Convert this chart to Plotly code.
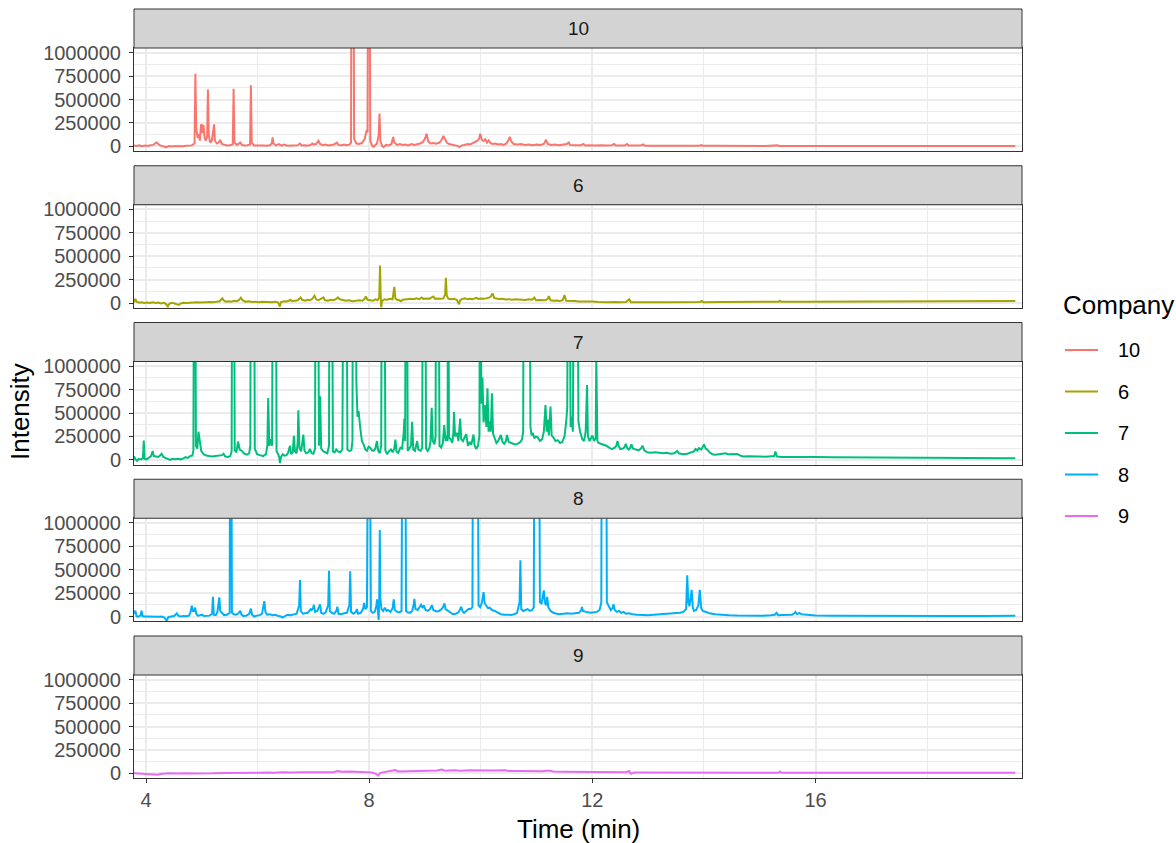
import plotly.graph_objects as go

# ---------------- data (time in min, intensity) ----------------
companies = ["10", "6", "7", "8", "9"]
colors = ["#F8766D", "#A3A500", "#00BF7D", "#00B0F6", "#E76BF3"]

trace_10 = [
    (3.785, 8000), (3.83, 3000), (3.88, 10000), (3.93, 2000), (3.98, 9000), (4.03, 4000), (4.08, 11000),
    (4.13, 15000), (4.17, 35000), (4.19, 42000), (4.22, 25000), (4.26, 8000), (4.31, 2000), (4.35, -12000),
    (4.38, -5000), (4.42, 2000), (4.47, -2000), (4.52, 4000), (4.57, 0), (4.62, 5000), (4.67, 2000),
    (4.72, 6000), (4.77, 4000), (4.82, 10000), (4.87, 30000), (4.885, 775000), (4.9, 200000),
    (4.925, 90000), (4.95, 130000), (4.965, 60000), (4.985, 225000), (5.0, 235000), (5.015, 140000),
    (5.03, 230000), (5.05, 90000), (5.07, 60000), (5.095, 100000), (5.11, 606000), (5.125, 120000),
    (5.15, 40000), (5.18, 60000), (5.205, 150000), (5.22, 234000), (5.235, 60000), (5.27, 30000),
    (5.31, 45000), (5.33, 70000), (5.36, 25000), (5.4, 15000), (5.45, 10000), (5.5, 12000),
    (5.555, 20000), (5.57, 614000), (5.585, 40000), (5.63, 15000), (5.67, 30000), (5.69, 40000),
    (5.72, 15000), (5.77, 8000), (5.82, 12000), (5.865, 20000), (5.88, 652000), (5.895, 40000),
    (5.94, 8000), (5.99, 10000), (6.05, 5000), (6.1, 9000), (6.16, 6000), (6.22, 12000), (6.255, 30000),
    (6.27, 95000), (6.285, 30000), (6.33, 10000), (6.36, 20000), (6.39, 22000), (6.43, 8000),
    (6.48, 18000), (6.53, 5000), (6.59, 8000), (6.65, 4000), (6.72, 12000), (6.76, 30000), (6.79, 10000),
    (6.85, 12000), (6.9, 6000), (6.95, 15000), (6.98, 30000), (7.01, 20000), (7.05, 25000), (7.09, 60000),
    (7.12, 25000), (7.17, 12000), (7.22, 18000), (7.27, 8000), (7.32, 10000), (7.37, 20000),
    (7.42, 40000), (7.45, 15000), (7.5, 12000), (7.55, 20000), (7.6, 12000), (7.65, 20000),
    (7.675, 40000), (7.685, 3000000), (7.715, 3000000), (7.73, 80000), (7.77, 30000), (7.82, 25000),
    (7.87, 35000), (7.92, 80000), (7.95, 160000), (7.97, 150000), (7.985, 3000000), (8.0, 3000000),
    (8.02, 60000), (8.05, 10000), (8.08, -5000), (8.11, 10000), (8.14, 30000), (8.17, 120000),
    (8.185, 351000), (8.2, 60000), (8.23, 5000), (8.26, -10000), (8.3, 15000), (8.35, 10000),
    (8.4, 25000), (8.43, 100000), (8.45, 40000), (8.5, 15000), (8.55, 25000), (8.6, 15000), (8.65, 20000),
    (8.7, 10000), (8.76, 25000), (8.81, 15000), (8.86, 20000), (8.91, 30000), (8.96, 45000), (9.0, 80000),
    (9.03, 135000), (9.06, 50000), (9.1, 30000), (9.15, 35000), (9.2, 28000), (9.26, 40000),
    (9.3, 70000), (9.33, 110000), (9.36, 75000), (9.39, 40000), (9.43, 25000), (9.48, 20000),
    (9.53, 15000), (9.58, 5000), (9.62, -8000), (9.66, 10000), (9.71, 15000), (9.76, 25000),
    (9.81, 20000), (9.86, 35000), (9.9, 45000), (9.94, 60000), (9.97, 80000), (9.99, 135000),
    (10.02, 70000), (10.05, 55000), (10.08, 75000), (10.11, 40000), (10.14, 65000), (10.17, 35000),
    (10.21, 25000), (10.26, 30000), (10.31, 20000), (10.36, 25000), (10.41, 15000), (10.46, 30000),
    (10.5, 70000), (10.52, 100000), (10.55, 50000), (10.59, 25000), (10.65, 20000), (10.72, 25000),
    (10.79, 15000), (10.86, 20000), (10.93, 12000), (11.0, 18000), (11.07, 15000), (11.13, 25000),
    (11.17, 70000), (11.2, 25000), (11.26, 15000), (11.33, 20000), (11.4, 12000), (11.47, 18000),
    (11.54, 25000), (11.575, 40000), (11.6, 15000), (11.67, 12000), (11.74, 15000), (11.8, 12000),
    (11.84, 25000), (11.87, 10000), (11.95, 12000), (12.05, 8000), (12.15, 12000), (12.25, 8000),
    (12.35, 12000), (12.39, 25000), (12.42, 8000), (12.5, 10000), (12.58, 8000), (12.62, 25000),
    (12.65, 8000), (12.75, 10000), (12.86, 8000), (12.91, 20000), (12.94, 6000), (13.1, 7000),
    (13.3, 5000), (13.5, 7000), (13.7, 5000), (13.93, 6000), (13.95, 15000), (13.98, 5000),
    (14.2, 6000), (14.4, 4000), (14.59, 8000), (14.62, 4000), (14.9, 5000), (15.1, 4000),
    (15.32, 10000), (15.35, 4000), (15.8, 4000), (16.5, 3000), (17.2, 4000), (18.0, 3000),
    (18.8, 4000), (19.58, 4000),
]

trace_6 = [
    (3.785, 10000), (3.81, 45000), (3.83, 15000), (3.87, 5000), (3.92, 8000), (3.97, 0), (4.02, 6000),
    (4.07, 2000), (4.12, 8000), (4.17, 0), (4.22, 5000), (4.27, -5000), (4.32, 3000), (4.36, -10000),
    (4.39, -38000), (4.42, -5000), (4.47, 2000), (4.52, -5000), (4.56, -10000), (4.59, -20000),
    (4.62, -5000), (4.67, 3000), (4.73, 0), (4.79, 5000), (4.85, 2000), (4.91, 8000), (4.97, 5000),
    (5.03, 10000), (5.09, 8000), (5.15, 12000), (5.21, 10000), (5.27, 15000), (5.32, 20000),
    (5.35, 40000), (5.37, 50000), (5.39, 30000), (5.43, 15000), (5.48, 20000), (5.53, 15000),
    (5.58, 25000), (5.63, 20000), (5.67, 35000), (5.7, 58000), (5.73, 30000), (5.78, 15000),
    (5.84, 18000), (5.9, 12000), (5.96, 15000), (6.02, 10000), (6.08, 14000), (6.14, 10000),
    (6.2, 12000), (6.26, 8000), (6.32, 15000), (6.37, 5000), (6.4, -38000), (6.42, 10000),
    (6.47, 20000), (6.52, 18000), (6.56, 25000), (6.59, 35000), (6.62, 20000), (6.67, 25000),
    (6.72, 30000), (6.77, 60000), (6.8, 35000), (6.85, 25000), (6.9, 35000), (6.94, 30000),
    (6.98, 45000), (7.02, 78000), (7.05, 40000), (7.09, 30000), (7.13, 45000), (7.18, 60000),
    (7.21, 30000), (7.26, 25000), (7.31, 35000), (7.36, 30000), (7.41, 45000), (7.44, 60000),
    (7.47, 40000), (7.52, 30000), (7.58, 25000), (7.64, 30000), (7.7, 20000), (7.76, 25000),
    (7.82, 30000), (7.88, 25000), (7.92, 45000), (7.94, 70000), (7.97, 35000), (8.02, 30000),
    (8.07, 25000), (8.11, 40000), (8.15, 30000), (8.18, 60000), (8.195, 400000), (8.205, 100000),
    (8.215, -48000), (8.23, 20000), (8.27, 40000), (8.32, 35000), (8.37, 45000), (8.42, 40000),
    (8.45, 174000), (8.47, 50000), (8.5, 35000), (8.54, 30000), (8.57, 20000), (8.6, 35000),
    (8.65, 40000), (8.7, 38000), (8.75, 45000), (8.8, 40000), (8.85, 50000), (8.9, 42000),
    (8.94, 60000), (8.97, 45000), (9.02, 50000), (9.07, 45000), (9.11, 55000), (9.15, 70000),
    (9.18, 45000), (9.23, 50000), (9.28, 45000), (9.33, 50000), (9.36, 90000), (9.375, 270000),
    (9.39, 80000), (9.42, 45000), (9.47, 40000), (9.52, 45000), (9.57, 35000), (9.61, -12000),
    (9.63, 30000), (9.67, 45000), (9.72, 50000), (9.76, 40000), (9.8, 45000), (9.85, 40000),
    (9.89, 50000), (9.92, 55000), (9.96, 45000), (10.01, 50000), (10.06, 45000), (10.11, 55000),
    (10.16, 60000), (10.19, 80000), (10.21, 103000), (10.24, 55000), (10.29, 45000), (10.34, 40000),
    (10.39, 45000), (10.44, 38000), (10.5, 42000), (10.56, 35000), (10.62, 40000), (10.68, 35000),
    (10.74, 38000), (10.8, 33000), (10.86, 40000), (10.92, 35000), (10.96, 58000), (10.99, 30000),
    (11.05, 32000), (11.1, 28000), (11.16, 30000), (11.2, 45000), (11.22, 75000), (11.25, 30000),
    (11.3, 25000), (11.36, 28000), (11.42, 22000), (11.47, 30000), (11.5, 85000), (11.53, 25000),
    (11.6, 20000), (11.68, 22000), (11.76, 18000), (11.84, 20000), (11.92, 15000), (12.0, 18000),
    (12.1, 12000), (12.2, 15000), (12.3, 10000), (12.4, 12000), (12.5, 8000), (12.6, 12000),
    (12.66, 40000), (12.69, 10000), (12.8, 8000), (12.95, 10000), (13.1, 8000), (13.3, 10000),
    (13.5, 9000), (13.7, 11000), (13.93, 12000), (13.96, 22000), (13.99, 10000), (14.3, 12000),
    (14.6, 11000), (14.9, 13000), (15.2, 12000), (15.34, 15000), (15.36, 24000), (15.39, 13000),
    (15.8, 14000), (16.3, 15000), (16.8, 15000), (17.3, 17000), (17.8, 17000), (18.3, 19000),
    (18.8, 20000), (19.2, 21000), (19.58, 22000),
]

trace_7 = [
    (3.785, 40000), (3.81, 5000), (3.84, -10000), (3.87, 10000), (3.9, 5000), (3.945, 15000),
    (3.96, 207000), (3.975, 10000), (4.01, 5000), (4.05, 25000), (4.09, 40000), (4.12, 94000),
    (4.14, 40000), (4.18, 35000), (4.22, 30000), (4.25, 45000), (4.28, 65000), (4.31, 30000),
    (4.35, 20000), (4.39, 10000), (4.43, 0), (4.47, 10000), (4.52, 5000), (4.57, 10000), (4.62, 5000),
    (4.67, 15000), (4.71, 28000), (4.75, 20000), (4.79, 40000), (4.83, 45000), (4.85, 100000),
    (4.862, 3000000), (4.878, 3000000), (4.895, 150000), (4.92, 120000), (4.94, 300000),
    (4.96, 200000), (4.99, 95000), (5.03, 60000), (5.08, 45000), (5.13, 40000), (5.19, 35000),
    (5.25, 40000), (5.31, 45000), (5.36, 50000), (5.39, 65000), (5.42, 35000), (5.47, 30000),
    (5.51, 40000), (5.535, 90000), (5.545, 3000000), (5.575, 3000000), (5.59, 100000), (5.62, 80000),
    (5.65, 195000), (5.68, 110000), (5.72, 95000), (5.76, 65000), (5.81, 55000), (5.85, 70000),
    (5.87, 150000), (5.88, 3000000), (5.935, 3000000), (5.95, 120000), (5.99, 60000), (6.04, 50000),
    (6.1, 40000), (6.15, 60000), (6.175, 150000), (6.19, 660000), (6.21, 150000), (6.235, 220000),
    (6.26, 150000), (6.275, 3000000), (6.325, 3000000), (6.34, 90000), (6.37, 60000), (6.39, 20000),
    (6.4, -35000), (6.42, 30000), (6.45, 60000), (6.48, 45000), (6.52, 50000), (6.55, 80000),
    (6.58, 150000), (6.6, 60000), (6.63, 80000), (6.65, 255000), (6.67, 90000), (6.7, 70000),
    (6.72, 200000), (6.73, 530000), (6.75, 130000), (6.78, 90000), (6.8, 180000), (6.82, 270000),
    (6.84, 100000), (6.87, 70000), (6.91, 80000), (6.94, 115000), (6.97, 70000), (7.0, 65000),
    (7.03, 120000), (7.04, 3000000), (7.08, 3000000), (7.1, 150000), (7.12, 680000), (7.14, 120000),
    (7.18, 90000), (7.22, 80000), (7.25, 70000), (7.28, 150000), (7.29, 3000000), (7.33, 3000000),
    (7.35, 90000), (7.38, 80000), (7.41, 110000), (7.44, 90000), (7.48, 80000), (7.52, 110000),
    (7.54, 3000000), (7.59, 3000000), (7.61, 110000), (7.64, 95000), (7.68, 100000), (7.7, 200000),
    (7.71, 3000000), (7.75, 3000000), (7.77, 850000), (7.79, 460000), (7.81, 520000), (7.84, 340000),
    (7.87, 200000), (7.9, 165000), (7.93, 110000), (7.96, 95000), (7.99, 140000), (8.02, 130000),
    (8.05, 100000), (8.08, 95000), (8.11, 120000), (8.14, 200000), (8.16, 100000), (8.19, 70000),
    (8.215, 150000), (8.23, 3000000), (8.27, 3000000), (8.29, 100000), (8.32, 60000), (8.36, 95000),
    (8.39, 110000), (8.42, 80000), (8.45, 120000), (8.47, 215000), (8.49, 90000), (8.52, 75000),
    (8.56, 130000), (8.59, 120000), (8.62, 300000), (8.63, 440000), (8.645, 200000),
    (8.655, 3000000), (8.675, 3000000), (8.69, 95000), (8.72, 120000), (8.75, 150000),
    (8.77, 405000), (8.79, 110000), (8.82, 95000), (8.84, 150000), (8.86, 200000), (8.88, 110000),
    (8.92, 95000), (8.95, 130000), (8.965, 3000000), (9.0, 3000000), (9.02, 120000), (9.05, 95000),
    (9.08, 130000), (9.1, 200000), (9.12, 555000), (9.14, 200000), (9.17, 165000), (9.19, 250000),
    (9.2, 3000000), (9.24, 3000000), (9.26, 150000), (9.29, 130000), (9.32, 180000),
    (9.345, 370000), (9.37, 200000), (9.39, 255000), (9.405, 200000), (9.415, 3000000),
    (9.43, 240000), (9.46, 220000), (9.49, 180000), (9.51, 300000), (9.52, 510000), (9.54, 250000),
    (9.57, 290000), (9.6, 200000), (9.63, 440000), (9.65, 220000), (9.68, 200000), (9.71, 240000),
    (9.74, 275000), (9.77, 150000), (9.8, 190000), (9.83, 160000), (9.86, 230000), (9.87, 270000),
    (9.89, 150000), (9.92, 115000), (9.95, 150000), (9.975, 250000), (9.99, 3000000),
    (10.01, 600000), (10.03, 880000), (10.05, 400000), (10.08, 585000), (10.1, 350000),
    (10.12, 765000), (10.14, 300000), (10.16, 410000), (10.18, 300000), (10.2, 710000),
    (10.22, 280000), (10.25, 230000), (10.28, 180000), (10.31, 200000), (10.34, 240000),
    (10.36, 265000), (10.39, 190000), (10.42, 170000), (10.45, 200000), (10.47, 265000),
    (10.5, 190000), (10.53, 185000), (10.57, 175000), (10.61, 165000), (10.65, 170000),
    (10.69, 180000), (10.72, 200000), (10.74, 220000), (10.76, 300000), (10.77, 3000000),
    (10.875, 3000000), (10.89, 350000), (10.91, 260000), (10.93, 290000), (10.96, 230000),
    (10.99, 250000), (11.02, 240000), (11.06, 200000), (11.1, 220000), (11.13, 300000),
    (11.16, 585000), (11.18, 300000), (11.2, 430000), (11.22, 260000), (11.25, 570000),
    (11.27, 260000), (11.3, 240000), (11.34, 200000), (11.38, 210000), (11.42, 180000),
    (11.46, 190000), (11.5, 250000), (11.53, 400000), (11.55, 560000), (11.565, 3000000),
    (11.585, 3000000), (11.61, 350000), (11.63, 460000), (11.65, 300000), (11.675, 3000000),
    (11.73, 3000000), (11.75, 410000), (11.78, 300000), (11.82, 220000), (11.85, 200000),
    (11.88, 300000), (11.905, 800000), (11.92, 250000), (11.95, 200000), (11.98, 230000),
    (12.0, 260000), (12.03, 200000), (12.06, 230000), (12.07, 1100000), (12.09, 200000),
    (12.11, 180000), (12.15, 170000), (12.2, 165000), (12.25, 150000), (12.3, 130000),
    (12.35, 115000), (12.4, 130000), (12.43, 150000), (12.45, 200000), (12.47, 150000),
    (12.5, 115000), (12.55, 120000), (12.58, 140000), (12.6, 170000), (12.62, 130000),
    (12.65, 110000), (12.68, 130000), (12.7, 165000), (12.73, 120000), (12.78, 110000),
    (12.83, 100000), (12.87, 120000), (12.9, 150000), (12.93, 100000), (12.98, 80000),
    (13.05, 75000), (13.12, 80000), (13.2, 75000), (13.27, 70000), (13.33, 75000), (13.4, 65000),
    (13.47, 70000), (13.52, 95000), (13.55, 70000), (13.62, 60000), (13.7, 65000), (13.76, 75000),
    (13.82, 90000), (13.85, 115000), (13.88, 100000), (13.91, 125000), (13.95, 110000),
    (13.98, 140000), (14.0, 165000), (14.03, 120000), (14.06, 110000), (14.1, 80000), (14.15, 60000),
    (14.2, 55000), (14.27, 60000), (14.33, 58000), (14.39, 70000), (14.43, 60000), (14.5, 60000),
    (14.56, 55000), (14.6, 62000), (14.65, 45000), (14.7, 35000), (14.8, 38000), (14.9, 33000),
    (15.0, 35000), (15.1, 33000), (15.2, 35000), (15.26, 40000), (15.28, 88000), (15.31, 35000),
    (15.4, 30000), (15.6, 32000), (15.8, 30000), (16.0, 30000), (16.3, 28000), (16.6, 27000),
    (16.9, 30000), (17.2, 25000), (17.5, 24000), (17.9, 22000), (18.3, 21000), (18.7, 20000),
    (19.1, 18000), (19.58, 17000),
]

trace_8 = [
    (3.785, 30000), (3.81, 62000), (3.83, 5000), (3.86, 0), (3.9, 10000), (3.92, 62000), (3.94, 5000),
    (3.98, 0), (4.03, 2000), (4.08, 0), (4.13, 3000), (4.18, 0), (4.23, -3000), (4.28, 0),
    (4.33, -10000), (4.37, -45000), (4.4, -5000), (4.45, 0), (4.5, 5000), (4.53, 20000), (4.55, 35000),
    (4.58, 10000), (4.62, 0), (4.67, 5000), (4.72, 3000), (4.77, 10000), (4.8, 50000), (4.82, 115000),
    (4.84, 60000), (4.86, 60000), (4.88, 95000), (4.9, 30000), (4.93, 10000), (4.97, 15000),
    (5.0, 20000), (5.04, 5000), (5.09, 5000), (5.14, 10000), (5.185, 30000), (5.2, 210000),
    (5.215, 20000), (5.25, 15000), (5.28, 50000), (5.3, 120000), (5.315, 205000), (5.33, 60000),
    (5.36, 40000), (5.4, 15000), (5.45, 20000), (5.5, 40000), (5.51, 3000000), (5.525, 3000000),
    (5.54, 40000), (5.57, 25000), (5.61, 20000), (5.65, 30000), (5.69, 62000), (5.71, 20000),
    (5.75, 5000), (5.8, 10000), (5.85, 30000), (5.88, 85000), (5.9, 20000), (5.94, 0), (5.99, 10000),
    (6.04, 15000), (6.08, 30000), (6.1, 100000), (6.12, 165000), (6.14, 50000), (6.17, 20000),
    (6.22, 25000), (6.27, 15000), (6.32, 20000), (6.37, 5000), (6.42, 0), (6.45, -10000),
    (6.49, 5000), (6.54, 20000), (6.59, 15000), (6.64, 25000), (6.7, 30000), (6.745, 120000),
    (6.76, 390000), (6.775, 60000), (6.81, 30000), (6.85, 35000), (6.9, 40000), (6.95, 80000),
    (6.97, 70000), (6.995, 90000), (7.01, 125000), (7.03, 50000), (7.07, 60000), (7.1, 100000),
    (7.12, 130000), (7.14, 40000), (7.18, 30000), (7.22, 45000), (7.265, 120000), (7.28, 490000),
    (7.295, 60000), (7.33, 40000), (7.37, 30000), (7.41, 60000), (7.43, 105000), (7.45, 30000),
    (7.5, 25000), (7.55, 35000), (7.6, 40000), (7.645, 120000), (7.66, 485000), (7.675, 50000),
    (7.72, 30000), (7.76, 50000), (7.78, 80000), (7.8, 30000), (7.85, 40000), (7.89, 80000),
    (7.91, 145000), (7.93, 80000), (7.96, 100000), (7.985, 3000000), (8.005, 3000000), (8.03, 60000),
    (8.06, 40000), (8.1, 50000), (8.13, 120000), (8.14, 185000), (8.155, 30000), (8.17, -35000),
    (8.18, 200000), (8.19, 925000), (8.2, 200000), (8.22, 80000), (8.25, 60000), (8.28, 95000),
    (8.31, 60000), (8.34, 70000), (8.38, 50000), (8.42, 90000), (8.44, 185000), (8.46, 70000),
    (8.5, 50000), (8.54, 45000), (8.58, 60000), (8.6, 3000000), (8.645, 3000000), (8.66, 60000),
    (8.69, 45000), (8.73, 40000), (8.77, 60000), (8.795, 120000), (8.81, 190000), (8.83, 80000),
    (8.87, 70000), (8.9, 100000), (8.93, 125000), (8.96, 90000), (8.98, 120000), (9.01, 70000),
    (9.05, 60000), (9.09, 80000), (9.125, 120000), (9.15, 70000), (9.2, 55000), (9.25, 60000),
    (9.3, 80000), (9.33, 110000), (9.35, 140000), (9.37, 80000), (9.41, 60000), (9.46, 40000),
    (9.5, 25000), (9.55, 30000), (9.6, 45000), (9.63, 80000), (9.65, 105000), (9.67, 60000),
    (9.7, 40000), (9.74, 60000), (9.78, 80000), (9.82, 80000), (9.85, 100000), (9.865, 3000000),
    (9.94, 3000000), (9.96, 120000), (9.99, 100000), (10.02, 150000), (10.05, 260000),
    (10.07, 140000), (10.1, 120000), (10.13, 90000), (10.16, 95000), (10.2, 70000), (10.25, 60000),
    (10.3, 40000), (10.36, 25000), (10.42, 20000), (10.48, 15000), (10.54, 18000), (10.6, 25000),
    (10.65, 40000), (10.695, 150000), (10.71, 600000), (10.725, 80000), (10.76, 60000), (10.8, 70000),
    (10.84, 80000), (10.88, 60000), (10.92, 70000), (10.95, 100000), (10.965, 3000000),
    (11.04, 3000000), (11.06, 150000), (11.09, 140000), (11.115, 220000), (11.13, 280000),
    (11.15, 150000), (11.17, 120000), (11.19, 210000), (11.21, 100000), (11.25, 60000), (11.3, 40000),
    (11.36, 30000), (11.42, 25000), (11.48, 30000), (11.55, 35000), (11.62, 30000), (11.7, 35000),
    (11.76, 40000), (11.8, 70000), (11.815, 103000), (11.83, 60000), (11.87, 50000), (11.92, 45000),
    (11.97, 40000), (12.02, 45000), (12.08, 50000), (12.13, 70000), (12.16, 150000), (12.17, 3000000),
    (12.245, 3000000), (12.26, 150000), (12.29, 110000), (12.33, 70000), (12.36, 90000),
    (12.38, 130000), (12.4, 70000), (12.44, 50000), (12.48, 60000), (12.52, 40000), (12.56, 50000),
    (12.6, 30000), (12.66, 35000), (12.72, 25000), (12.8, 20000), (12.9, 15000), (13.0, 15000),
    (13.1, 20000), (13.2, 25000), (13.3, 25000), (13.4, 30000), (13.5, 35000), (13.57, 40000),
    (13.63, 50000), (13.68, 80000), (13.7, 440000), (13.72, 150000), (13.74, 110000),
    (13.76, 180000), (13.78, 285000), (13.8, 100000), (13.82, 60000), (13.86, 70000),
    (13.9, 120000), (13.925, 285000), (13.95, 90000), (13.98, 60000), (14.03, 50000), (14.1, 35000),
    (14.2, 25000), (14.3, 18000), (14.45, 15000), (14.6, 12000), (14.75, 10000), (14.9, 12000),
    (15.05, 10000), (15.2, 14000), (15.27, 20000), (15.3, 40000), (15.33, 15000), (15.4, 18000),
    (15.5, 22000), (15.58, 20000), (15.62, 35000), (15.64, 50000), (15.67, 25000), (15.71, 40000),
    (15.75, 25000), (15.85, 18000), (16.0, 12000), (16.3, 10000), (16.7, 8000), (17.2, 8000),
    (17.8, 6000), (18.4, 7000), (19.0, 6000), (19.58, 8000),
]

trace_9 = [
    (3.785, 2000), (3.9, -3000), (4.0, 0), (4.1, -6000), (4.2, -15000), (4.3, -4000), (4.4, 0),
    (4.55, -3000), (4.7, 2000), (4.85, -2000), (5.0, 2000), (5.2, 0), (5.4, 4000), (5.6, 2000),
    (5.8, 6000), (6.0, 5000), (6.2, 9000), (6.3, 5000), (6.45, 12000), (6.6, 8000), (6.8, 11000),
    (7.0, 9000), (7.2, 14000), (7.35, 12000), (7.44, 25000), (7.5, 18000), (7.65, 20000),
    (7.8, 15000), (7.95, 12000), (8.05, 8000), (8.12, -5000), (8.16, -25000), (8.2, 5000),
    (8.3, 15000), (8.42, 22000), (8.47, 35000), (8.52, 20000), (8.65, 22000), (8.8, 25000),
    (8.95, 22000), (9.1, 28000), (9.22, 30000), (9.3, 40000), (9.36, 28000), (9.5, 32000),
    (9.65, 28000), (9.8, 32000), (10.0, 28000), (10.2, 30000), (10.44, 33000), (10.5, 25000),
    (10.7, 24000), (10.9, 22000), (11.1, 22000), (11.22, 30000), (11.3, 20000), (11.5, 18000),
    (11.75, 16000), (12.0, 15000), (12.3, 14000), (12.6, 12000), (12.66, 25000), (12.69, -5000),
    (12.75, 10000), (13.0, 9000), (13.5, 8000), (14.0, 7000), (14.5, 7000), (15.0, 6000),
    (15.34, 7000), (15.36, 18000), (15.39, 6000), (16.0, 6000), (17.0, 5000), (18.0, 5000),
    (19.0, 5000), (19.58, 5000),
]

x_ticks = [4, 8, 12, 16]
y_ticks = [0, 250000, 500000, 750000, 1000000]
series = [trace_10, trace_6, trace_7, trace_8, trace_9]

# ---------------- layout geometry (pixels) ----------------
W, H = 1176, 843
L, R, T, B = 134, 154, 9, 65
plot_w = W - L - R
plot_h = H - T - B
step = 156.75
strip_h = 39
panel_h = 103


def pyp(py):
    return (H - B - py) / plot_h


def pxp(px):
    return (px - L) / plot_w


font_family = "Liberation Sans, Arial, Helvetica, sans-serif"
fig = go.Figure()

for i, (name, col, pts) in enumerate(zip(companies, colors, series)):
    sfx = "" if i == 0 else str(i + 1)
    fig.add_trace(go.Scatter(x=[p[0] for p in pts], y=[p[1] for p in pts], mode="lines",
                             name=name, legendgroup=name, showlegend=False,
                             line=dict(color=col, width=2),
                             xaxis="x" + sfx, yaxis="y" + sfx))

layout = dict(
    width=W, height=H,
    margin=dict(l=L, r=R, t=T, b=B, autoexpand=False),
    paper_bgcolor="white", plot_bgcolor="white",
    font=dict(family=font_family, color="black"),
    showlegend=False,
)
shapes = []
annotations = []
for i in range(5):
    sfx = "" if i == 0 else str(i + 1)
    top = T + i * step + strip_h
    bot = top + panel_h
    layout["xaxis" + sfx] = dict(
        domain=[0, 1], anchor="y" + sfx, range=[3.785, 19.70],
        tickmode="array", tickvals=x_ticks, showticklabels=(i == 4),
        ticks="outside" if i == 4 else "", ticklen=4, tickcolor="#333333", tickwidth=1,
        tickfont=dict(size=20, color="#4D4D4D"), ticklabelstandoff=0,
        showgrid=True, gridcolor="#EBEBEB", gridwidth=1.5,
        minor=dict(tick0=2, dtick=4, showgrid=True, gridcolor="#EBEBEB", gridwidth=0.8, ticks=""),
        showline=True, mirror=True, linecolor="#333333", linewidth=1, zeroline=False,
        automargin=False,
    )
    if i > 0:
        layout["xaxis" + sfx]["matches"] = "x"
    layout["yaxis" + sfx] = dict(
        domain=[pyp(bot), pyp(top)], anchor="x" + sfx, range=[-50000, 1050000],
        tickmode="array", tickvals=y_ticks, tickformat="d",
        ticks="outside", ticklen=4, tickcolor="#333333", tickwidth=1,
        tickfont=dict(size=20, color="#4D4D4D"), ticklabelstandoff=4,
        showgrid=True, gridcolor="#EBEBEB", gridwidth=1.5,
        minor=dict(tick0=125000, dtick=250000, showgrid=True, gridcolor="#EBEBEB",
                   gridwidth=0.8, ticks=""),
        showline=True, mirror=True, linecolor="#333333", linewidth=1, zeroline=False,
        automargin=False,
    )
    s_top = T + i * step
    shapes.append(dict(type="rect", xref="paper", yref="paper", x0=0, x1=1,
                       y0=pyp(s_top + strip_h), y1=pyp(s_top),
                       fillcolor="#D3D3D3", line=dict(color="#333333", width=1)))
    annotations.append(dict(xref="paper", yref="paper", x=0.5, y=pyp(s_top + strip_h / 2),
                            text=companies[i], showarrow=False, xanchor="center", yanchor="middle",
                            font=dict(size=19, color="#1A1A1A")))

# legend (key lines + labels), title
legend_top, legend_gap = 350, 41.5
for i, (name, col) in enumerate(zip(companies, colors)):
    yy = pyp(legend_top + i * legend_gap)
    shapes.append(dict(type="line", xref="paper", yref="paper", x0=pxp(1065), x1=pxp(1098),
                       y0=yy, y1=yy, line=dict(color=col, width=2)))
    annotations.append(dict(xref="paper", yref="paper", x=pxp(1116), y=yy, text=name,
                            showarrow=False, xanchor="left", yanchor="middle",
                            font=dict(size=20, color="black")))
annotations.append(dict(xref="paper", yref="paper", x=pxp(1061), y=pyp(305), text="Company",
                        showarrow=False, xanchor="left", yanchor="middle",
                        font=dict(size=26, color="black")))

annotations.append(dict(xref="paper", yref="paper", x=0.5, y=pyp(829), text="Time (min)",
                        showarrow=False, xanchor="center", yanchor="middle",
                        font=dict(size=26, color="black")))
annotations.append(dict(xref="paper", yref="paper", x=pxp(20), y=pyp(412),
                        text="Intensity", textangle=-90, showarrow=False,
                        xanchor="center", yanchor="middle", font=dict(size=26, color="black")))
layout["shapes"] = shapes
layout["annotations"] = annotations
fig.update_layout(**layout)
fig.write_html("out.html")
